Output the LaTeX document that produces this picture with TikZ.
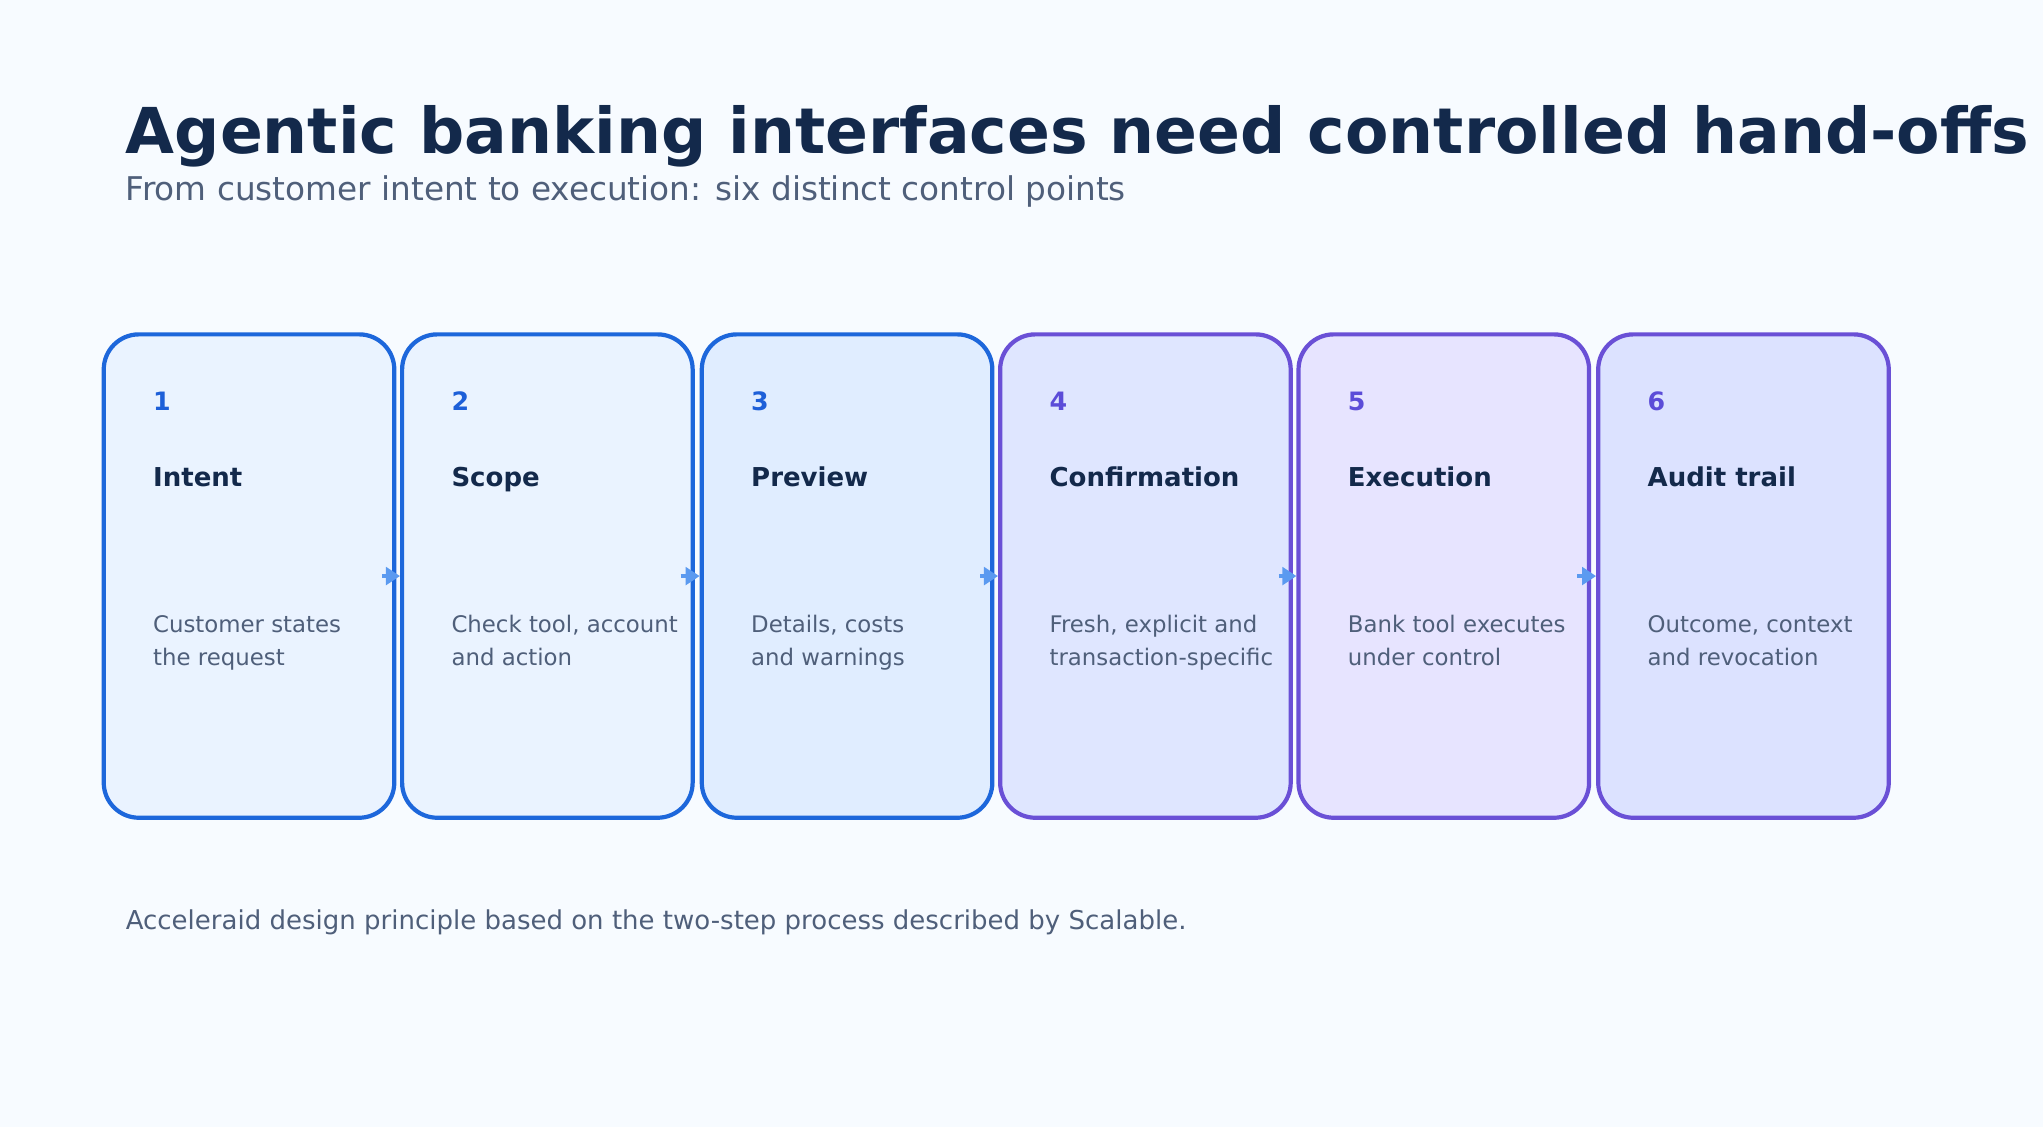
\documentclass[tikz,border=0pt]{standalone}
\usepackage{fontspec}
\setmainfont{DejaVu Sans}
\usetikzlibrary{arrows.meta}
\definecolor{bg}{HTML}{F7FBFF}
\definecolor{ttl}{HTML}{13294B}
\definecolor{gry}{HTML}{4F5F7A}
\definecolor{bb}{HTML}{1D67DB}
\definecolor{pb}{HTML}{6A50D6}
\definecolor{nb}{HTML}{1D5FD8}
\definecolor{np}{HTML}{5B4CD8}
\definecolor{fa}{HTML}{EAF3FF}
\definecolor{fb}{HTML}{E0EDFF}
\definecolor{fc}{HTML}{DFE6FF}
\definecolor{fd}{HTML}{E7E4FF}
\definecolor{fe}{HTML}{DCE2FF}
\definecolor{ar}{HTML}{5B9AF0}
\begin{document}
\begin{tikzpicture}[x=0.01303cm,y=-0.01303cm,
 box/.style={draw=#1,line width=1.2pt,rounded corners=10pt,minimum width=223*0.01303cm,minimum height=371*0.01303cm,inner sep=0pt},
 num/.style={anchor=base west,font=\fontsize{7.2}{8}\selectfont\bfseries,text=#1,inner sep=0pt},
 hd/.style={anchor=base west,font=\fontsize{7.4}{8}\selectfont\bfseries,text=ttl,inner sep=0pt},
 ds/.style={anchor=base west,align=left,font=\fontsize{6.5}{9.6}\selectfont,text=gry,inner sep=0pt},
 con/.style={draw=ar,line width=1.2pt,-{Triangle[length=4pt,width=5pt]}}]
\fill[bg] (0,0) rectangle (1568,865);
\node[anchor=base west,inner sep=0pt,text=ttl,font=\fontsize{18}{21}\selectfont\bfseries] (title) at (96,118) {Agentic banking interfaces need controlled hand-offs};
\node[anchor=base west,inner sep=0pt,text=gry,font=\fontsize{9.3}{11}\selectfont] (sub) at (96,154) {From customer intent to execution: six distinct control points};
\foreach \i/\x/\bc/\fc/\nc/\t/\d in {
 1/78/bb/fa/nb/Intent/{Customer states\\the request},
 2/307/bb/fa/nb/Scope/{Check tool, account\\and action},
 3/537/bb/fb/nb/Preview/{Details, costs\\and warnings},
 4/766/pb/fc/np/Confirmation/{Fresh, explicit and\\transaction-specific},
 5/995/pb/fd/np/Execution/{Bank tool executes\\under control},
 6/1225/pb/fe/np/Audit trail/{Outcome, context\\and revocation}}{
 \node[box=\bc,fill=\fc,anchor=north west] (b\i) at (\x,255) {};
 \node[num=\nc] (n\i) at (\x+39,315) {\i};
 \node[hd] (h\i) at (\x+39,373) {\t};
 \node[ds] (d\i) at (\x+39,511) {\d};
}
\foreach \a/\b in {1/2,2/3,3/4,4/5,5/6}{
 \draw[con] ([xshift=-4pt]b\a.east) -- (b\b.west);
}
\node[anchor=base west,inner sep=0pt,text=gry,font=\fontsize{7.4}{9}\selectfont] (foot) at (96,713) {Acceleraid design principle based on the two-step process described by Scalable.};
\end{tikzpicture}
\end{document}
